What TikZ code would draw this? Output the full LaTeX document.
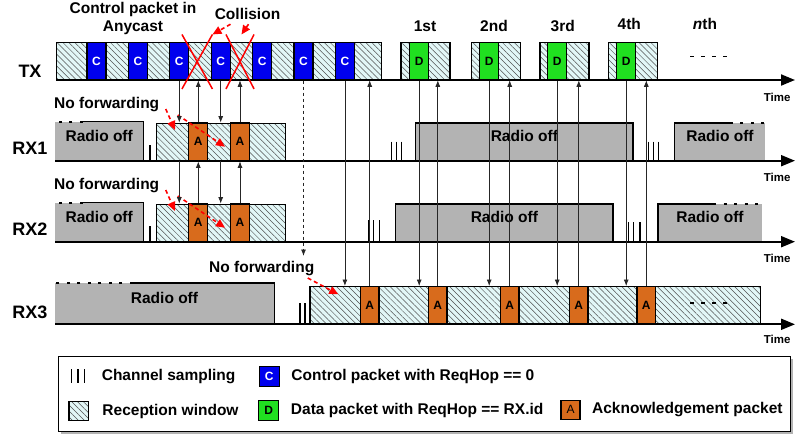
\documentclass[tikz,border=0pt]{standalone}
\usepackage{fontspec}
\setmainfont{Liberation Sans}
\usetikzlibrary{arrows.meta,positioning,fit,patterns.meta,shapes.misc,shadows}
\definecolor{hatchbg}{HTML}{E2F7F7}
\definecolor{hatchln}{HTML}{505050}
\definecolor{ctrlblue}{HTML}{0000EE}
\definecolor{datagreen}{HTML}{20E020}
\definecolor{ackorange}{HTML}{D86B1C}
\definecolor{offgray}{HTML}{B3B3B3}

\begin{document}
\begin{tikzpicture}[
    x=1pt, y=-1pt,
    lbl/.style={font=\fontsize{15.5}{18}\selectfont\bfseries},
    rowlbl/.style={font=\fontsize{18}{20}\selectfont\bfseries},
    tlbl/.style={font=\fontsize{11.5}{12}\selectfont\bfseries, anchor=east},
    rim/.style={line width=1.3pt},
    rimdots/.style={line width=1.5pt, dash pattern=on 3pt off 7.5pt},
    win/.style={draw, rim, inner sep=0pt, preaction={fill=hatchbg},
      pattern={Lines[angle=-45,distance=4.2pt,line width=0.5pt]}, pattern color=hatchln},
    pkt/.style={draw, rim, inner sep=0pt, minimum width=19pt, minimum height=37.7pt,
      font=\fontsize{12}{12}\selectfont\bfseries},
    ctrl/.style={pkt, fill=ctrlblue, text=white},
    dat/.style={pkt, fill=datagreen},
    ack/.style={pkt, fill=ackorange},
    off/.style={fill=offgray, inner sep=0pt, lbl},
    samp/.style={line width=1.3pt},
    axis/.style={line width=2pt, -{Triangle[length=14pt,width=11pt]}},
    conn/.style={line width=0.8pt, black!85, -{Latex[length=6.5pt,width=5pt]}},
    redarr/.style={red, line width=1.6pt, dash pattern=on 4pt off 3pt, -{Triangle[length=9pt,width=8pt]}},
    hit/.style={cross out, draw=red, line width=1.5pt, inner sep=0pt, minimum height=53pt}
  ]
    \useasboundingbox (0,0) rectangle (795,437);

    % TX
    \node[rowlbl] (tx) at (30,71) {TX};
    \node[win, fit={(56.7,42.3) (381.7,80)}] (txwin) {};
    \foreach \cx [count=\i] in {96.5,137.9,179.3,220.7,262.1,303.5,344.9}
      \node[ctrl] (txc\i) at (\cx,61.15) {C};
    \foreach \wx/\dx [count=\i] in {401/419.2,471.7/489.2,540/557.2,608.3/626.2} {
      \node[win, fit={(\wx,42.3) (\wx+49,80)}] (txw\i) {};
      \node[dat] (txd\i) at (\dx,61.15) {D};
    }
    \node[lbl] (ord1) at (425,26) {1st};
    \node[lbl] (ord2) at (494,26) {2nd};
    \node[lbl] (ord3) at (562.7,26) {3rd};
    \node[lbl] (ord4) at (629.3,24) {4th};
    \node[lbl] (ordn) at (705,24) {{\itshape n}th};
    \draw[line width=1.5pt, dash pattern=on 4pt off 7pt] (690,56.7) -- (728,56.7);
    \draw[axis] (56.7,80) -- (795,80);
    \node[tlbl] (time0) at (794,97.5) {Time};

    \node[lbl, align=center] (anycast) at (133,18) {Control packet in\\Anycast};
    \node[lbl] (coll) at (247.5,14) {Collision};
    \node[hit, minimum width=29pt] (col1) at (197.2,61.7) {};
    \node[hit, minimum width=26.6pt] (col2) at (240,61.7) {};
    \draw[redarr] ([xshift=-17pt,yshift=-1pt]coll.south) -- (col1.north east);
    \draw[redarr] ([xshift=1pt,yshift=-1pt]coll.south) -- ([xshift=1.5pt]col2.north);

    % RX1
    \node[rowlbl] (rx1) at (30,148) {RX1};
    \node[off, fit={(55,122) (143.5,160.7)}] (off1a) {Radio off};
    \draw[rim] (off1a.south east) -- (off1a.north east) -- ([xshift=28pt]off1a.north west);
    \draw[rimdots] ([xshift=28pt]off1a.north west) -- (off1a.north west);
    \draw[samp] (150,145) -- (150,160.7);
    \node[win, fit={(156.7,123.3) (285.7,160.7)}] (win1) {};
    \node[ack] (ack1a) at (198.3,141.8) {A};
    \node[ack] (ack1b) at (240,141.8) {A};
    \foreach \t in {391.5,396.5,401.5} \draw[samp] (\t,141.7) -- (\t,160.7);
    \node[off, fit={(416,123.3) (632.7,160.7)}] (off1b) {Radio off};
    \draw[rim] (off1b.south west) -- (off1b.north west) -- (off1b.north east) -- (off1b.south east);
    \foreach \t in {648.3,653.3,658.3} \draw[samp] (\t,141.7) -- (\t,160.7);
    \node[off, fit={(675,123.3) (765,160.7)}] (off1c) {Radio off};
    \draw[rim] (off1c.south west) -- (off1c.north west) -- ([xshift=55pt]off1c.north west);
    \draw[rimdots] ([xshift=55pt]off1c.north west) -- (off1c.north east);
    \draw[axis] (55,160.7) -- (795,160.7);
    \node[tlbl] (time1) at (794,177.5) {Time};
    \node[lbl] (nofw1) at (106.7,105) {No forwarding};
    \coordinate (nf1a) at (175,130);
    \coordinate (nf1b) at (225,146.7);
    \draw[redarr] ([shift={(3pt,-4pt)}]nofw1.east) -- (nf1a);
    \draw[redarr] ([shift={(15pt,-10pt)}]nofw1.east) -- (nf1b);

    % RX2
    \node[rowlbl] (rx2) at (30,229) {RX2};
    \node[off, fit={(55,203) (143.5,241.7)}] (off2a) {Radio off};
    \draw[rim] (off2a.south east) -- (off2a.north east) -- ([xshift=28pt]off2a.north west);
    \draw[rimdots] ([xshift=28pt]off2a.north west) -- (off2a.north west);
    \draw[samp] (150,226) -- (150,241.7);
    \node[win, fit={(156.7,204.3) (285.7,241.7)}] (win2) {};
    \node[ack] (ack2a) at (198.3,222.8) {A};
    \node[ack] (ack2b) at (240,222.8) {A};
    \foreach \t in {368.3,373.3,379.3} \draw[samp] (\t,220) -- (\t,241.7);
    \node[off, fit={(396,204.3) (612.7,241.7)}] (off2b) {Radio off};
    \draw[rim] (off2b.south west) -- (off2b.north west) -- (off2b.north east) -- (off2b.south east);
    \foreach \t in {628.3,633.3,640} \draw[samp] (\t,222.3) -- (\t,241.7);
    \node[off, fit={(658.3,204.3) (761.7,241.7)}] (off2c) {Radio off};
    \draw[rim] (off2c.south west) -- (off2c.north west) -- ([xshift=55pt]off2c.north west);
    \draw[rimdots] ([xshift=55pt]off2c.north west) -- (off2c.north east);
    \draw[axis] (55,241.7) -- (795,241.7);
    \node[tlbl] (time2) at (794,258) {Time};
    \node[lbl] (nofw2) at (106.7,186) {No forwarding};
    \coordinate (nf2a) at (175,211);
    \coordinate (nf2b) at (225,227.7);
    \draw[redarr] ([shift={(3pt,-4pt)}]nofw2.east) -- (nf2a);
    \draw[redarr] ([shift={(15pt,-10pt)}]nofw2.east) -- (nf2b);

    % RX3
    \node[rowlbl] (rx3) at (30,312) {RX3};
    \node[off, fit={(55,283.3) (274,324.3)}] (off3) {Radio off};
    \draw[rim] (off3.south east) -- (off3.north east) -- ([xshift=78pt]off3.north west);
    \draw[rimdots] ([xshift=78pt]off3.north west) -- (off3.north west);
    \foreach \t in {300,305} \draw[samp] (\t,303) -- (\t,324.3);
    \node[win, fit={(310,286.7) (760.7,324.3)}] (win3) {};
    \foreach \ax [count=\i] in {369.7,437.8,509.7,578.8,646.3}
      \node[ack, minimum width=18.5pt] (ack3\i) at (\ax,305.5) {A};
    \draw[line width=1.5pt, dash pattern=on 4pt off 7pt] (690,303) -- (728,303);
    \draw[axis] (55,324.3) -- (795,324.3);
    \node[tlbl] (time3) at (794,339.5) {Time};
    \node[lbl] (nofw3) at (261.7,269) {No forwarding};
    \coordinate (nf3) at (338.3,294.3);
    \draw[redarr] ([shift={(-10pt,-9pt)}]nofw3.east) -- (nf3);

    % messages
    \draw[conn] (txc3.south) -- (txc3.south |- win1.north);
    \draw[conn] (txc3 |- win1.south) -- (txc3 |- win2.north);
    \draw[conn] (txc4.south) -- (txc4.south |- win1.north);
    \draw[conn] (txc4 |- win1.south) -- (txc4 |- win2.north);
    \draw[conn] (ack1a.north) -- (ack1a.north |- txwin.south);
    \draw[conn] (ack1b.north) -- (ack1b.north |- txwin.south);
    \draw[conn] (ack2a.north) -- (ack2a.north |- win1.south);
    \draw[conn] (ack2b.north) -- (ack2b.north |- win1.south);
    \coordinate (lost) at (303.5,256);
    \draw[conn, dashed] (txc6.south) -- (lost);
    \draw[conn] (txc7.south) -- (txc7.south |- win3.north);
    \draw[conn] (ack31.north) -- (ack31.north |- txwin.south);
    \foreach \i/\j in {1/2,2/3,3/4,4/5} {
      \draw[conn] (txd\i.south) -- (txd\i.south |- win3.north);
      \draw[conn] (ack3\j.north) -- (ack3\j.north |- txwin.south);
    }

    % legend
    \node[draw, line width=1pt, fill=white, inner sep=0pt,
      drop shadow={shadow xshift=2.5pt, shadow yshift=-2.5pt, opacity=0.6},
      fit={(58.3,356) (790.7,431)}] (legend) {};
    \foreach \t in {71.7,78,84.3} \draw[samp] (\t,369) -- (\t,383.3);
    \node[lbl, anchor=west] (lgsampt) at (98.3,376.7) {Channel sampling};
    \node[win, fit={(69,401.7) (88.3,420.7)}] (lgwin) {};
    \node[lbl, right=10pt of lgwin] (lgwint) {Reception window};
    \node[ctrl, minimum width=20pt, minimum height=20pt] (lgc) at (269.3,376.7) {C};
    \node[lbl, right=8pt of lgc] (lgct) {Control packet with ReqHop == 0};
    \node[dat, minimum width=20pt, minimum height=20pt] (lgd) at (268.8,410.3) {D};
    \node[lbl, right=8pt of lgd] (lgdt) {Data packet with ReqHop == RX.id};
    \node[ack, minimum width=19pt, minimum height=19pt, font=\fontsize{12}{12}\selectfont] (lga) at (570.5,409.7) {A};
    \node[lbl, right=8pt of lga] (lgat) {Acknowledgement packet};
\end{tikzpicture}
\end{document}
